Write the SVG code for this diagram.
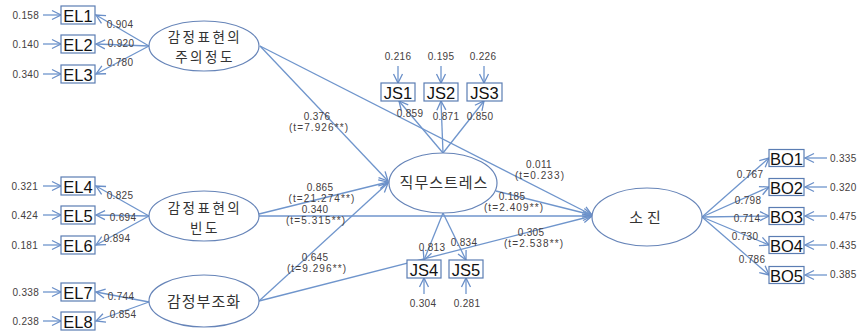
<svg xmlns="http://www.w3.org/2000/svg" width="861" height="331" viewBox="0 0 861 331">
<defs>
<marker id="ah" markerUnits="userSpaceOnUse" markerWidth="12" markerHeight="12" refX="9" refY="5" orient="auto" overflow="visible">
<path d="M0,0.5 L9,5 L0,9.5" fill="none" stroke="#6a8fc8" stroke-width="1.3"/>
</marker>
</defs>
<style>
.bg{fill:#ffffff}
.ln{stroke:#6f95cc;stroke-width:1.3;fill:none;marker-end:url(#ah)}
.box{fill:#ffffff;stroke:#5b7db3;stroke-width:1.2}
.ell{fill:#ffffff;stroke:#6684b8;stroke-width:1.2}
.bt{font-family:"Liberation Sans",Arial,sans-serif;font-size:16.5px;fill:#111111;text-anchor:middle}
.et{font-family:"Noto Sans CJK KR","Noto Sans",sans-serif;font-size:15px;fill:#333333;text-anchor:middle;letter-spacing:1px}
.et2{font-family:"Noto Sans CJK KR","Noto Sans",sans-serif;font-size:13.5px;fill:#333333;text-anchor:middle;letter-spacing:2.5px}
.n{font-family:"Liberation Sans",Arial,sans-serif;font-size:10px;fill:#454040;text-anchor:middle;letter-spacing:0.3px}
.t{font-family:"Liberation Sans",Arial,sans-serif;font-size:10px;fill:#454040;text-anchor:middle;letter-spacing:1.1px}
.ne{font-family:"Liberation Sans",Arial,sans-serif;font-size:10px;fill:#454040;text-anchor:end;letter-spacing:0.3px}
.ns{font-family:"Liberation Sans",Arial,sans-serif;font-size:10px;fill:#454040;text-anchor:start;letter-spacing:0.3px}
</style>
<rect class="bg" x="0" y="0" width="861" height="331"/>

<g id="connectors">
<line class="ln" x1="43" y1="15" x2="61" y2="15"/>
<line class="ln" x1="43" y1="44" x2="61" y2="44"/>
<line class="ln" x1="43" y1="74" x2="61" y2="74"/>
<line class="ln" x1="43" y1="186" x2="61" y2="186"/>
<line class="ln" x1="43" y1="215" x2="61" y2="215"/>
<line class="ln" x1="43" y1="245" x2="61" y2="245"/>
<line class="ln" x1="43" y1="292" x2="61" y2="292"/>
<line class="ln" x1="43" y1="321" x2="61" y2="321"/>
<line class="ln" x1="149" y1="46" x2="96" y2="15"/>
<line class="ln" x1="149" y1="46" x2="96" y2="44"/>
<line class="ln" x1="149" y1="46" x2="96" y2="74"/>
<line class="ln" x1="149" y1="216" x2="96" y2="186"/>
<line class="ln" x1="149" y1="216" x2="96" y2="215"/>
<line class="ln" x1="149" y1="216" x2="96" y2="245"/>
<line class="ln" x1="149" y1="302" x2="96" y2="292"/>
<line class="ln" x1="149" y1="302" x2="96" y2="321"/>
<line class="ln" x1="398" y1="66" x2="398" y2="83"/>
<line class="ln" x1="441" y1="66" x2="441" y2="83"/>
<line class="ln" x1="484" y1="66" x2="484" y2="83"/>
<line class="ln" x1="424" y1="294" x2="424" y2="278"/>
<line class="ln" x1="466" y1="294" x2="466" y2="278"/>
<line class="ln" x1="443" y1="153" x2="399" y2="101"/>
<line class="ln" x1="443" y1="153" x2="441" y2="101"/>
<line class="ln" x1="443" y1="153" x2="484" y2="101"/>
<line class="ln" x1="443" y1="213" x2="424" y2="260"/>
<line class="ln" x1="443" y1="213" x2="466" y2="260"/>
<line class="ln" x1="260" y1="46" x2="388" y2="181"/>
<line class="ln" x1="260" y1="46" x2="592" y2="215"/>
<line class="ln" x1="259" y1="214" x2="388" y2="182"/>
<line class="ln" x1="259" y1="216" x2="592" y2="216"/>
<line class="ln" x1="259" y1="301" x2="388" y2="183"/>
<line class="ln" x1="259" y1="301" x2="592" y2="216"/>
<line class="ln" x1="496" y1="191" x2="592" y2="215"/>
<line class="ln" x1="702" y1="217" x2="769" y2="158"/>
<line class="ln" x1="702" y1="217" x2="769" y2="187"/>
<line class="ln" x1="702" y1="217" x2="769" y2="216"/>
<line class="ln" x1="702" y1="217" x2="769" y2="245"/>
<line class="ln" x1="702" y1="217" x2="769" y2="275"/>
<line class="ln" x1="827" y1="158" x2="805" y2="158"/>
<line class="ln" x1="827" y1="187" x2="805" y2="187"/>
<line class="ln" x1="827" y1="216" x2="805" y2="216"/>
<line class="ln" x1="827" y1="245" x2="805" y2="245"/>
<line class="ln" x1="827" y1="275" x2="805" y2="275"/>
</g>

<g id="labels">
<text class="ne" x="39" y="19">0.158</text>
<text class="ne" x="39" y="48">0.140</text>
<text class="ne" x="39" y="78">0.340</text>
<text class="ne" x="38" y="190">0.321</text>
<text class="ne" x="38" y="219">0.424</text>
<text class="ne" x="38" y="249">0.181</text>
<text class="ne" x="39" y="296">0.338</text>
<text class="ne" x="39" y="325">0.238</text>
<text class="n" x="120" y="28">0.904</text>
<text class="n" x="121" y="47">0.920</text>
<text class="n" x="120" y="66">0.780</text>
<text class="n" x="120" y="199">0.825</text>
<text class="n" x="123" y="221">0.694</text>
<text class="n" x="117" y="242">0.894</text>
<text class="n" x="121" y="300">0.744</text>
<text class="n" x="123" y="318">0.854</text>
<text class="n" x="398" y="60">0.216</text>
<text class="n" x="441" y="60">0.195</text>
<text class="n" x="483" y="60">0.226</text>
<text class="n" x="410" y="117">0.859</text>
<text class="n" x="446" y="120">0.871</text>
<text class="n" x="480" y="120">0.850</text>
<text class="n" x="432" y="251">0.813</text>
<text class="n" x="464" y="246">0.834</text>
<text class="n" x="423" y="307">0.304</text>
<text class="n" x="467" y="307">0.281</text>
<text class="n" x="317" y="120">0.376</text>
<text class="t" x="319" y="131">(t=7.926**)</text>
<text class="n" x="320" y="190.5">0.865</text>
<text class="t" x="322" y="201.5">(t=21.274**)</text>
<text class="n" x="315" y="212.5">0.340</text>
<text class="t" x="316" y="223.5">(t=5.315**)</text>
<text class="n" x="315" y="261">0.645</text>
<text class="t" x="317" y="272">(t=9.296**)</text>
<text class="n" x="539" y="168">0.011</text>
<text class="t" x="540" y="179">(t=0.233)</text>
<text class="n" x="512" y="200">0.185</text>
<text class="t" x="514" y="211">(t=2.409**)</text>
<text class="n" x="531" y="236">0.305</text>
<text class="t" x="534" y="247">(t=2.538**)</text>
<text class="n" x="750" y="178">0.767</text>
<text class="n" x="748" y="204">0.798</text>
<text class="n" x="747" y="222">0.714</text>
<text class="n" x="745" y="240">0.730</text>
<text class="n" x="752" y="263">0.786</text>
<text class="ns" x="830" y="162">0.335</text>
<text class="ns" x="830" y="191">0.320</text>
<text class="ns" x="830" y="220">0.475</text>
<text class="ns" x="830" y="249">0.435</text>
<text class="ns" x="830" y="278">0.385</text>
</g>

<g id="EL1"><rect class="box" x="61" y="6" width="34" height="18"/><text class="bt" x="78" y="21.5">EL1</text></g>
<g id="EL2"><rect class="box" x="61" y="35" width="34" height="18"/><text class="bt" x="78" y="50.5">EL2</text></g>
<g id="EL3"><rect class="box" x="61" y="65" width="34" height="18"/><text class="bt" x="78" y="80.5">EL3</text></g>
<g id="EL4"><rect class="box" x="61" y="177" width="34" height="18"/><text class="bt" x="78" y="192.5">EL4</text></g>
<g id="EL5"><rect class="box" x="61" y="206" width="34" height="18"/><text class="bt" x="78" y="221.5">EL5</text></g>
<g id="EL6"><rect class="box" x="61" y="236" width="34" height="18"/><text class="bt" x="78" y="251.5">EL6</text></g>
<g id="EL7"><rect class="box" x="61" y="283" width="34" height="18"/><text class="bt" x="78" y="298.5">EL7</text></g>
<g id="EL8"><rect class="box" x="61" y="312" width="34" height="18"/><text class="bt" x="78" y="327.5">EL8</text></g>

<g id="JS1"><rect class="box" x="381" y="83" width="34" height="18"/><text class="bt" x="398" y="98.5">JS1</text></g>
<g id="JS2"><rect class="box" x="424" y="83" width="34" height="18"/><text class="bt" x="441" y="98.5">JS2</text></g>
<g id="JS3"><rect class="box" x="467" y="83" width="35" height="18"/><text class="bt" x="484.5" y="98.5">JS3</text></g>
<g id="JS4"><rect class="box" x="407" y="260" width="34" height="18"/><text class="bt" x="424" y="275.5">JS4</text></g>
<g id="JS5"><rect class="box" x="449" y="260" width="34" height="18"/><text class="bt" x="466" y="275.5">JS5</text></g>

<g id="BO1"><rect class="box" x="769" y="149.5" width="35" height="17"/><text class="bt" x="786.5" y="164.5">BO1</text></g>
<g id="BO2"><rect class="box" x="769" y="178.5" width="35" height="17"/><text class="bt" x="786.5" y="193.5">BO2</text></g>
<g id="BO3"><rect class="box" x="769" y="207.5" width="35" height="17"/><text class="bt" x="786.5" y="222.5">BO3</text></g>
<g id="BO4"><rect class="box" x="769" y="236.5" width="35" height="17"/><text class="bt" x="786.5" y="251.5">BO4</text></g>
<g id="BO5"><rect class="box" x="769" y="266.5" width="35" height="17"/><text class="bt" x="786.5" y="281.5">BO5</text></g>

<g id="attention"><ellipse class="ell" cx="204" cy="46" rx="55" ry="25"/><text class="et2" x="205" y="42">감정표현의</text><text class="et2" x="205" y="62">주의정도</text></g>
<g id="frequency"><ellipse class="ell" cx="204" cy="216" rx="55" ry="25"/><text class="et2" x="205" y="213">감정표현의</text><text class="et2" x="205" y="233">빈도</text></g>
<g id="dissonance"><ellipse class="ell" cx="204" cy="301" rx="55" ry="26"/><text class="et" x="204" y="307">감정부조화</text></g>
<g id="jobstress"><ellipse class="ell" cx="443" cy="183" rx="54" ry="30"/><text class="et" x="444" y="188">직무스트레스</text></g>
<g id="burnout"><ellipse class="ell" cx="647" cy="217" rx="55" ry="29"/><text class="et" x="647" y="223" style="letter-spacing:4px">소진</text></g>
</svg>
